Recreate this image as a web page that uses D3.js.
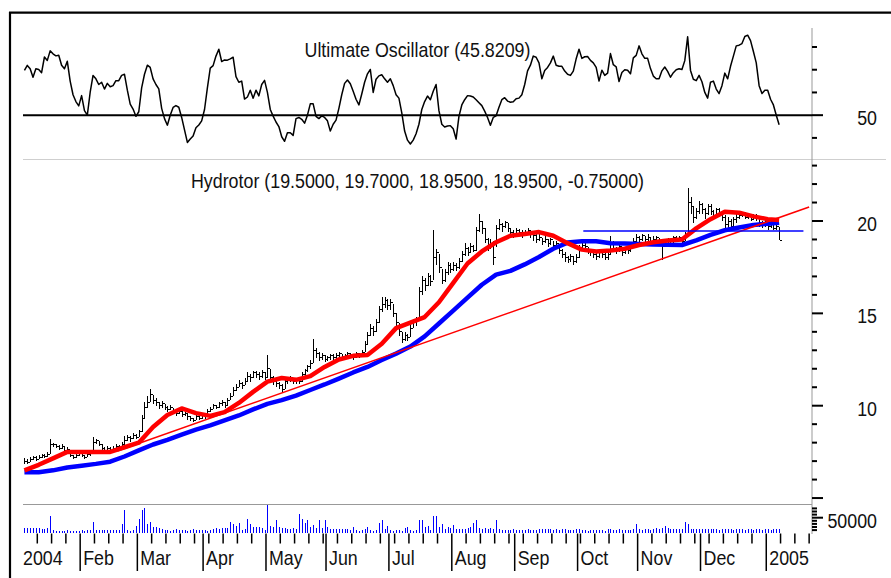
<!DOCTYPE html>
<html>
<head>
<meta charset="utf-8">
<script src="https://d3js.org/d3.v7.min.js"></script>
<style>
  body { margin: 0; background: #fff; }
  svg { display: block; }
  text { font-family: 'Liberation Sans', Arial, sans-serif; font-size: 21px; fill: #111; }
</style>
</head>
<body>
<script>
  // size of the page
  var width = 891, height = 578;

  // ---- data ----
  var title = 'Hydrotor (19.5000, 19.7000, 18.9500, 18.9500, -0.75000)';
  var oscTitle = 'Ultimate Oscillator (45.8209)';
  var firstDay = new Date(2004, 0, 5);

  // daily [high, low, close]
  var hlc = [
    [7.15,6.85,7.0],[7.1,6.85,6.95],[7.2,6.95,7.1],[7.3,7.05,7.2],[7.25,7.0,7.1],[7.35,7.1,7.2],[7.4,7.15,7.3],[7.4,7.15,7.25],[7.5,7.2,7.35],[8.2,7.4,7.9],
    [8.0,7.75,7.9],[7.95,7.7,7.8],[7.85,7.6,7.7],[7.9,7.65,7.8],[7.8,7.55,7.6],[7.75,7.5,7.65],[7.5,7.2,7.3],[7.35,7.1,7.2],[7.4,7.15,7.3],[7.5,7.25,7.4],
    [7.45,7.2,7.3],[7.35,7.1,7.2],[7.45,7.2,7.35],[7.55,7.3,7.45],[8.3,7.5,8.0],[8.2,7.9,8.1],[8.1,7.8,7.9],[7.9,7.6,7.7],[7.75,7.5,7.6],[7.8,7.55,7.7],
    [7.75,7.5,7.6],[7.8,7.6,7.7],[7.9,7.65,7.8],[7.85,7.6,7.7],[8.05,7.7,7.9],[8.35,7.9,8.1],[8.4,8.1,8.3],[8.35,8.05,8.2],[8.5,8.2,8.4],[8.45,8.2,8.3],
    [8.7,8.3,8.6],[9.5,8.6,9.3],[10.2,9.3,9.9],[10.5,9.9,10.2],[10.9,10.2,10.6],[10.6,10.1,10.3],[10.4,10.0,10.2],[10.2,9.8,10.0],[10.25,9.9,10.1],[10.1,9.75,9.9],
    [10.0,9.65,9.8],[10.05,9.75,9.9],[9.9,9.55,9.7],[9.75,9.45,9.6],[9.85,9.55,9.7],[9.7,9.4,9.5],[9.7,9.45,9.6],[9.6,9.25,9.4],[9.45,9.15,9.3],[9.35,9.1,9.2],
    [9.5,9.2,9.4],[9.45,9.2,9.3],[9.6,9.3,9.5],[9.55,9.3,9.4],[9.8,9.4,9.7],[9.95,9.65,9.8],[10.1,9.8,10.0],[10.05,9.8,9.9],[10.2,9.9,10.1],[10.3,10.0,10.2],
    [10.2,9.9,10.0],[10.4,10.0,10.3],[10.7,10.3,10.5],[11.0,10.5,10.8],[11.2,10.8,11.0],[11.4,11.0,11.2],[11.3,10.9,11.1],[11.5,11.1,11.3],[11.8,11.3,11.6],[11.7,11.3,11.5],
    [11.9,11.5,11.8],[11.9,11.5,11.7],[11.8,11.4,11.6],[11.95,11.5,11.8],[11.8,11.4,11.5],[12.75,11.5,12.0],[12.0,11.3,11.5],[11.6,11.1,11.3],[11.4,11.0,11.2],[11.3,10.9,11.1],
    [11.2,10.7,10.9],[11.4,10.9,11.3],[11.5,11.2,11.4],[11.6,11.3,11.5],[11.5,11.2,11.3],[11.5,11.2,11.4],[11.5,11.2,11.3],[11.8,11.3,11.7],[12.0,11.6,11.9],[12.2,11.8,12.1],
    [12.5,12.0,12.3],[13.6,12.3,13.0],[13.1,12.6,12.8],[12.9,12.4,12.6],[12.85,12.5,12.7],[12.75,12.35,12.5],[12.7,12.4,12.6],[12.8,12.5,12.7],[12.8,12.5,12.6],[12.85,12.55,12.7],
    [12.9,12.6,12.8],[12.8,12.5,12.6],[12.8,12.55,12.7],[12.9,12.6,12.8],[12.85,12.6,12.7],[12.75,12.5,12.6],[12.9,12.6,12.8],[12.85,12.6,12.7],[13.0,12.7,12.9],[13.5,12.9,13.3],
    [14.0,13.3,13.8],[14.4,13.8,14.2],[14.3,13.8,14.0],[14.7,14.0,14.5],[15.4,14.5,15.2],[15.9,15.1,15.5],[15.9,15.3,15.7],[15.8,15.2,15.4],[15.8,15.2,15.6],[15.5,14.8,15.0],
    [15.0,14.3,14.5],[14.5,13.8,14.0],[14.0,13.4,13.6],[14.0,13.5,13.8],[13.9,13.5,13.7],[14.4,13.7,14.2],[14.7,14.2,14.5],[14.8,14.3,14.6],[16.4,14.8,16.2],[17.0,16.0,16.8],
    [16.9,16.2,16.5],[17.2,16.5,17.0],[17.1,16.5,16.7],[19.5,16.8,18.0],[18.5,17.6,18.3],[18.2,17.2,17.5],[17.4,16.6,16.8],[17.4,16.7,17.2],[17.8,17.1,17.6],[17.7,17.2,17.4],
    [17.8,17.3,17.6],[17.7,17.3,17.5],[18.0,17.4,17.8],[18.4,17.8,18.2],[18.8,18.1,18.5],[18.6,18.1,18.3],[18.8,18.3,18.6],[18.7,18.3,18.4],[19.7,18.4,19.5],[20.4,19.4,20.0],
    [20.0,19.3,19.6],[19.6,18.8,19.0],[19.1,18.4,18.6],[19.0,18.5,18.8],[18.9,17.6,18.0],[19.8,18.6,19.6],[20.1,19.5,19.8],[19.9,19.4,19.7],[20.0,19.6,19.9],[19.9,19.4,19.6],
    [19.6,19.2,19.4],[19.5,19.1,19.3],[19.6,19.2,19.5],[19.55,19.2,19.4],[19.5,19.1,19.3],[19.5,19.2,19.4],[19.6,19.3,19.5],[19.5,19.1,19.3],[19.4,18.9,19.2],[19.3,18.8,19.0],
    [19.3,18.9,19.1],[19.1,18.7,18.9],[19.2,18.8,19.0],[19.0,18.6,18.8],[19.1,18.7,19.0],[18.9,18.5,18.7],[18.9,18.5,18.8],[18.7,18.2,18.4],[18.5,18.0,18.2],[18.3,17.8,18.0],
    [18.1,17.7,17.9],[18.2,17.8,18.1],[18.1,17.6,17.8],[18.2,17.7,18.0],[18.7,18.0,18.5],[18.9,18.4,18.7],[18.8,18.4,18.6],[18.6,18.2,18.4],[18.5,18.1,18.3],[18.4,18.0,18.2],
    [18.3,17.9,18.1],[18.4,18.0,18.3],[18.4,18.0,18.2],[18.3,17.9,18.0],[18.3,17.9,18.2],[19.2,18.2,18.8],[18.9,18.3,18.5],[18.6,18.2,18.4],[18.7,18.3,18.6],[18.6,18.1,18.3],
    [18.6,18.2,18.5],[18.6,18.2,18.4],[18.8,18.3,18.6],[19.1,18.6,18.9],[19.3,18.8,19.1],[19.2,18.8,19.0],[19.3,18.9,19.2],[19.2,18.8,19.0],[19.3,18.9,19.1],[19.1,18.7,18.9],
    [19.2,18.8,19.0],[19.2,18.9,19.1],[19.1,18.7,18.9],[19.0,17.9,18.6],[19.0,18.6,18.9],[19.1,18.7,19.0],[19.0,18.7,18.8],[19.2,18.8,19.1],[19.2,18.9,19.0],[19.2,18.9,19.1],
    [19.1,18.8,18.9],[19.4,18.9,19.2],[21.8,19.2,21.0],[21.3,20.4,20.8],[20.8,19.9,20.2],[20.7,20.1,20.5],[21.1,20.4,20.9],[21.0,20.4,20.6],[20.7,20.1,20.4],[20.9,20.3,20.8],
    [20.9,20.3,20.5],[20.6,20.1,20.3],[20.7,20.2,20.6],[20.7,20.2,20.4],[20.5,20.0,20.2],[20.3,19.5,19.8],[20.2,19.6,20.0],[20.1,19.5,19.7],[20.2,19.7,20.1],[20.4,19.9,20.2],
    [20.5,20.1,20.3],[20.5,20.2,20.4],[20.5,20.1,20.2],[20.4,20.1,20.3],[20.4,20.0,20.1],[20.4,20.1,20.3],[20.4,20.0,20.2],[20.2,19.7,19.9],[20.0,19.6,19.8],[20.1,19.7,20.0],
    [20.0,19.5,19.7],[20.0,19.6,19.9],[19.9,19.5,19.6],[19.8,19.5,19.7],[19.7,18.95,18.95]
  ];

  // daily volume, thousands of shares
  var volumeK = [
    18,18,18,17,18,18,15,14,18,55, 10,8,8,8,8,9,8,8,8,8, 9,8,10,11,35,10,10,9,10,10,
    11,10,10,11,29,74,10,8,10,23, 46,74,80,29,35,20,19,18,12,10, 11,8,10,12,9,10,11,8,10,12,
    10,9,11,10,8,10,12,17,15,17, 18,17,35,29,23,32,10,12,45,31, 20,19,20,18,10,92,23,21,42,21,
    17,18,15,15,17,15,61,46,34,42, 21,28,17,42,18,42,21,14,15,14, 15,14,15,13,10,21,10,8,10,15,
    21,10,8,10,34,42,14,23,10,8, 10,10,8,18,21,10,8,10,42,42, 21,23,10,55,55,21,29,15,21,17,
    28,14,14,15,14,17,21,34,42,17, 15,17,15,18,13,42,12,10,10,11, 10,12,10,11,10,10,12,10,11,10,
    15,15,14,15,12,11,12,11,12,12, 11,10,11,12,15,10,10,8,10,10, 11,10,10,8,12,12,10,11,12,11,
    10,11,10,12,29,12,11,12,12,11, 15,17,15,17,23,17,14,15,14,15, 13,35,29,13,12,12,14,14,15,14,
    13,12,12,11,12,13,12,12,11,12, 13,12,11,12,12,11,13,12,11,12, 12,11,12,13,12
  ];

  // daily Ultimate Oscillator
  var ultimate = [
    69.7,71.9,70.4,66.7,70.4,70.1,68.7,75.6,74.1,78.3, 77,76.1,76.4,72,70.4,73.7,65,59,56,54.1,
    58.6,52,50,60.1,67.5,66,63.5,64.5,61.5,64, 62.5,63,65.2,65.2,67.5,68,61,54.9,52.7,49.5,
    51.5,62,68,72,71,66,63.5,61.6,53,48.5, 45.6,50,53.4,54.2,53.5,49,43.5,38,39.5,40.8,
    44.5,45.7,47.5,52.5,62,70.7,71.8,76,79,73.6, 74.3,74.2,74.8,75.5,67,64.5,65,57.1,58,61,
    57.5,61,58.5,63.5,65.3,60,52.5,49.6,47,45, 40.5,38.5,42.3,42.3,41.1,48.5,49,48.2,46.5,50,
    55,55,49.5,48.5,49.7,49,47.5,43,46,47.8, 53,59,64,65.5,63.8,60.5,57,54.5,59.3,64.5,
    68.2,70.1,60,65.8,67.3,67.8,66,64.5,66,63, 59,57.5,51,43,39,37.3,39,41.8,46,52.5,
    56,58.4,56.8,60.5,63.5,52,46,44.8,45.2,45.4, 44,39.5,49.5,54.5,56.8,58.6,58.4,58,56.8,55.5,
    54.2,51.8,49,45.6,49,49.7,53.5,56.8,57.7,56.2, 55.7,55.9,57.2,57.5,59,63.5,69.5,72,76,75.5,
    73,66,69.7,71,73,76,72,71.5,71.5,69.4, 68,67.5,69.4,74.8,79,75,75.7,75.8,74.1,73,
    71,65,69.8,67.5,68.5,77.1,72.2,71.3,64.8,68.8, 70,69.8,68.2,75.2,76.3,80.5,77,75,75,70.5,
    67.2,66,66,69.5,71.2,69.3,66.7,68.7,70,70.4, 70.1,74,84.5,69.7,65.8,65.2,67.5,64.7,60,57.5,
    64.5,65,61.5,59.5,63,68.5,66,71.5,76,80.5, 80.8,81.5,84.6,85.2,82.8,78,73,63,59.5,61,
    61,57,54.5,50,45.8
  ];

  // moving averages, one value every 5 trading days (last = final day)
  var maRed = [6.5,6.8,7.15,7.5,7.5,7.5,7.5,7.75,8.0,8.85,9.5,9.85,9.6,9.45,9.65,10.15,10.75,11.3,11.5,11.4,
    11.6,12.1,12.5,12.7,12.75,13.35,14.2,14.5,14.8,15.6,16.65,17.7,18.35,18.85,19.2,19.3,19.4,19.2,18.8,18.45,
    18.35,18.4,18.5,18.7,18.85,18.95,19.0,19.6,20.1,20.5,20.45,20.25,20.1,20.05];
  var maBlue = [6.4,6.4,6.5,6.65,6.75,6.85,6.97,7.25,7.58,7.9,8.15,8.43,8.7,8.93,9.2,9.47,9.8,10.1,10.3,10.55,
    10.85,11.15,11.47,11.8,12.1,12.47,12.82,13.2,13.75,14.45,15.15,15.85,16.55,17.1,17.3,17.65,18.05,18.5,18.83,18.9,
    18.9,18.8,18.78,18.75,18.73,18.72,18.7,18.95,19.25,19.5,19.65,19.78,19.85,19.9];

  // drawn lines: [trading day, price]
  var trendLine = [[33, 7.55], [275, 20.76]];
  var resistance = [[196, 19.46], [273, 19.46]];

  var oscTicks = [40, 50, 60, 70, 80], oscLabels = [50];
  var priceTicks = d3.range(5, 24), priceLabels = [10, 15, 20];
  var volTicks = d3.range(10000, 80001, 10000), volLabels = [50000];
  var monthNames = ['Jan','Feb','Mar','Apr','May','Jun','Jul','Aug','Sep','Oct','Nov','Dec'];

  // ---- trading days (weekdays) ----
  var days = [];
  var d = new Date(firstDay);
  while (days.length < 277) {
    if (d.getDay() !== 0 && d.getDay() !== 6) days.push(new Date(d));
    d.setDate(d.getDate() + 1);
  }

  // ---- scales ----
  var x = d3.scaleLinear().domain([0, 276]).range([23, 812]);
  var yOsc = d3.scaleLinear().domain([40, 80]).range([137.9, 47]);
  var yPrice = d3.scaleLinear().domain([10, 20]).range([405.7, 221]);
  var yVol = d3.scaleLinear().domain([0, 50000]).range([533.2, 517.7]);
  var cx = function(i) { return x(i + 0.5); };

  var svg = d3.select('body').append('svg')
    .attr('width', width).attr('height', height);

  // narrow lettering: the chart uses a condensed sans
  function label(parent, px, py, str, anchor) {
    return parent.append('text')
      .attr('transform', 'translate(' + px + ',' + py + ') scale(0.85,1)')
      .attr('text-anchor', anchor || 'start')
      .text(str);
  }

  // frame
  svg.append('line').attr('x1', 9).attr('x2', width).attr('y1', 12.7).attr('y2', 12.7)
    .attr('stroke', '#000').attr('stroke-width', 2.2);
  svg.append('line').attr('x1', 10).attr('x2', 10).attr('y1', 12).attr('y2', height)
    .attr('stroke', '#000').attr('stroke-width', 2.2);

  // panel separators
  svg.append('line').attr('x1', 23).attr('x2', 886).attr('y1', 159.5).attr('y2', 159.5)
    .attr('stroke', '#cfcfcf').attr('stroke-width', 1);
  svg.append('line').attr('x1', 23).attr('x2', 812).attr('y1', 504.5).attr('y2', 504.5)
    .attr('stroke', '#999').attr('stroke-width', 1);

  // right axis line
  svg.append('line').attr('x1', 812).attr('x2', 812).attr('y1', 28).attr('y2', 534)
    .attr('stroke', '#999').attr('stroke-width', 1);

  function rightTicks(scale, ticks, labels, isLong) {
    var g = svg.append('g');
    g.selectAll('line').data(ticks).enter().append('line')
      .attr('x1', 812).attr('x2', function(t) { return isLong(t) ? 823 : 817; })
      .attr('y1', function(t) { return scale(t); }).attr('y2', function(t) { return scale(t); })
      .attr('stroke', '#000').attr('stroke-width', 2);
    labels.forEach(function(t) { label(g, 877, scale(t) + 10, t, 'end'); });
  }
  rightTicks(yOsc, oscTicks, oscLabels, function(t) { return t === 50; });
  rightTicks(yPrice, priceTicks, priceLabels, function(t) { return t % 5 === 0; });
  rightTicks(yVol, volTicks, volLabels, function(t) { return t === 50000; });

  // oscillator
  svg.append('line').attr('x1', 23).attr('x2', 812)
    .attr('y1', yOsc(50)).attr('y2', yOsc(50))
    .attr('stroke', '#000').attr('stroke-width', 2);
  svg.append('path').datum(ultimate)
    .attr('fill', 'none').attr('stroke', '#000').attr('stroke-width', 1.5)
    .attr('stroke-linejoin', 'round')
    .attr('d', d3.line().x(function(v, i) { return cx(i); }).y(function(v) { return yOsc(v); }));
  label(svg, 417.5, 57.3, oscTitle, 'middle');

  // price title
  label(svg, 417.5, 188.3, title, 'middle');

  // price bars
  svg.append('path')
    .attr('fill', 'none').attr('stroke', '#000').attr('stroke-width', 1)
    .attr('shape-rendering', 'crispEdges')
    .attr('d', hlc.map(function(b, i) {
      var px = Math.round(cx(i)) + 0.5;
      return 'M' + px + ',' + yPrice(b[0]) + 'V' + yPrice(b[1]) +
        'M' + px + ',' + yPrice(b[2]) + 'H' + (px + 2);
    }).join(''));

  // moving averages
  var maDay = function(k) { return k === maRed.length - 1 ? hlc.length - 1 : k * 5; };
  var maLine = d3.line().x(function(v, k) { return cx(maDay(k)); }).y(function(v) { return yPrice(v); });
  svg.append('path').datum(maBlue).attr('fill', 'none').attr('stroke', '#0000ff')
    .attr('stroke-width', 4.5).attr('stroke-linejoin', 'round').attr('d', maLine);
  svg.append('path').datum(maRed).attr('fill', 'none').attr('stroke', '#ff0000')
    .attr('stroke-width', 4.5).attr('stroke-linejoin', 'round').attr('d', maLine);

  // trend line and resistance line
  var segLine = d3.line().x(function(p) { return x(p[0]); }).y(function(p) { return yPrice(p[1]); });
  svg.append('path').datum(trendLine).attr('stroke', '#ff0000').attr('stroke-width', 1.5).attr('d', segLine);
  svg.append('path').datum(resistance).attr('stroke', '#0000ff').attr('stroke-width', 1.5).attr('d', segLine);

  // volume
  svg.append('path')
    .attr('fill', 'none').attr('stroke', '#0000ff').attr('stroke-width', 1)
    .attr('shape-rendering', 'crispEdges')
    .attr('d', volumeK.map(function(v, i) {
      var px = Math.round(cx(i)) + 0.5;
      return 'M' + px + ',' + yVol(0) + 'V' + yVol(v * 1000);
    }).join(''));

  // time axis: weekly ticks and month lines
  var axis = svg.append('g');
  days.forEach(function(day, i) {
    if (i === 0 || x(i) > 812) return;
    var newMonth = day.getMonth() !== days[i - 1].getMonth();
    if (newMonth) {
      axis.append('line').attr('x1', x(i)).attr('x2', x(i)).attr('y1', 533.5).attr('y2', 571)
        .attr('stroke', '#000').attr('stroke-width', 1.5);
      label(axis, x(i) + 3, 565, day.getMonth() === 0 ? day.getFullYear() : monthNames[day.getMonth()]);
    } else if (day.getDay() === 1) {
      axis.append('line').attr('x1', x(i)).attr('x2', x(i)).attr('y1', 533.5).attr('y2', 543.5)
        .attr('stroke', '#000').attr('stroke-width', 1.5);
    }
  });
  label(axis, x(0), 565, days[0].getFullYear());
</script>
</body>
</html>
